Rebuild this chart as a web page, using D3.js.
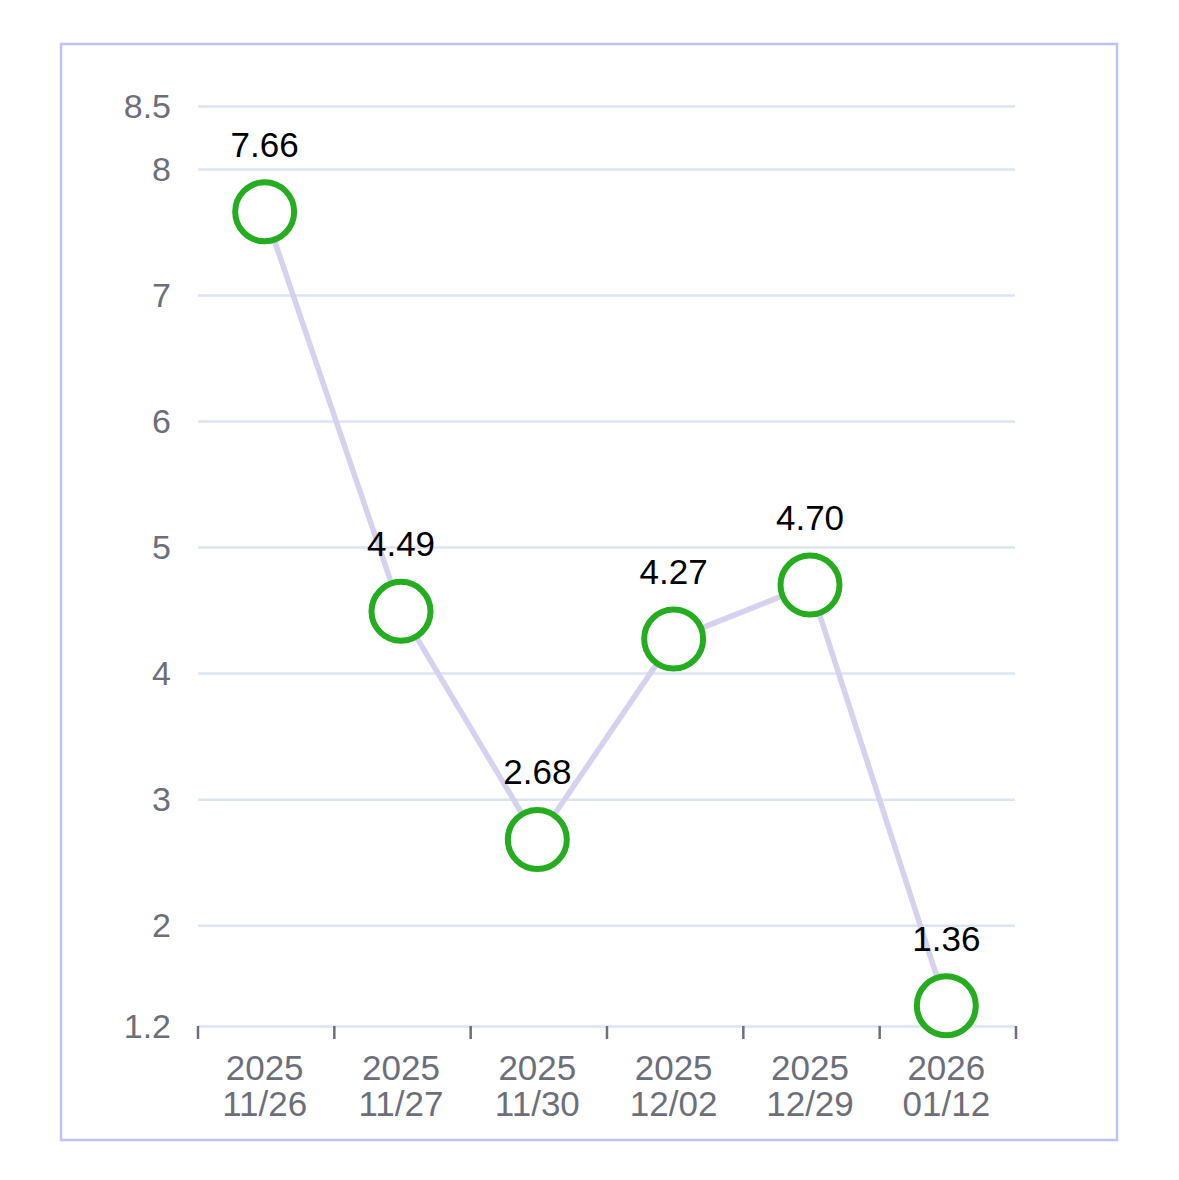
<!DOCTYPE html>
<html>
<head>
<meta charset="utf-8">
<script src="https://cdn.jsdelivr.net/npm/d3@7"></script>
<style>
  body { margin: 0; background: #fff; }
  text { font-family: "Liberation Sans", Arial, sans-serif; }
</style>
</head>
<body>
<svg width="1179" height="1180"></svg>
<script>
const years = ['2025', '2025', '2025', '2025', '2025', '2026'];
const dates = ['11/26', '11/27', '11/30', '12/02', '12/29', '01/12'];
const values = [7.66, 4.49, 2.68, 4.27, 4.70, 1.36];
const yTicks = [1.2, 2, 3, 4, 5, 6, 7, 8, 8.5];

const svg = d3.select('svg');

// outer frame
svg.append('rect')
    .attr('x', 61).attr('y', 44)
    .attr('width', 1056).attr('height', 1096)
    .attr('fill', 'none')
    .attr('stroke', '#bcc3f7')
    .attr('stroke-width', 2.5);

const plotLeft = 198, plotRight = 1016, plotTop = 106, plotBottom = 1026;

const keys = dates.map((d, i) => years[i] + ' ' + d);
const xScale = d3.scaleBand().domain(keys).range([plotLeft, plotRight]);
const yScale = d3.scaleLinear().domain([1.2, 8.5]).range([plotBottom, plotTop]);
const cx = (i) => xScale(keys[i]) + xScale.bandwidth() / 2 - 1.5;

// grid
svg.append('g')
    .attr('transform', `translate(${plotLeft},0)`)
    .call(d3.axisLeft(yScale).tickValues(yTicks).tickSize(-(plotRight - plotLeft - 1)).tickFormat(''))
    .call(g => g.select('.domain').remove())
    .call(g => g.selectAll('line').attr('stroke', '#dde5f2').attr('stroke-width', 2.5));

// y labels
svg.append('g')
    .selectAll('text')
    .data(yTicks)
    .enter()
    .append('text')
    .attr('x', 171)
    .attr('y', (d) => yScale(d))
    .attr('dy', '0.35em')
    .attr('text-anchor', 'end')
    .attr('font-size', 34)
    .attr('fill', '#6c6f7a')
    .text((d) => d);

// x axis ticks
const edges = keys.map((k) => xScale(k)).concat([plotRight]);
svg.append('g')
    .selectAll('line')
    .data(edges)
    .enter()
    .append('line')
    .attr('x1', (d) => d).attr('x2', (d) => d)
    .attr('y1', plotBottom).attr('y2', plotBottom + 13)
    .attr('stroke', '#6c6f7a')
    .attr('stroke-width', 2.5);

const xl = svg.append('g')
    .selectAll('text')
    .data(keys)
    .enter()
    .append('text')
    .attr('x', (d, i) => cx(i))
    .attr('text-anchor', 'middle')
    .attr('font-size', 35)
    .attr('fill', '#6c6f7a');
xl.append('tspan').attr('x', (d, i) => cx(i)).attr('y', 1080).text((d, i) => years[i]);
xl.append('tspan').attr('x', (d, i) => cx(i)).attr('y', 1116).text((d, i) => dates[i]);

// line
const line = d3.line().x((d, i) => cx(i)).y((d) => yScale(d));
svg.append('path')
    .datum(values)
    .attr('d', line)
    .attr('fill', 'none')
    .attr('stroke', '#d4d2ee')
    .attr('stroke-width', 5.5);

// points
svg.append('g')
    .selectAll('circle')
    .data(values)
    .enter()
    .append('circle')
    .attr('cx', (d, i) => cx(i))
    .attr('cy', (d) => yScale(d))
    .attr('r', 29.5)
    .attr('fill', '#fff')
    .attr('stroke', '#24ad1f')
    .attr('stroke-width', 6);

// value labels
svg.append('g')
    .selectAll('text')
    .data(values)
    .enter()
    .append('text')
    .attr('x', (d, i) => cx(i))
    .attr('y', (d) => yScale(d) - 55)
    .attr('text-anchor', 'middle')
    .attr('font-size', 35)
    .attr('fill', '#000')
    .text((d) => d.toFixed(2));
</script>
</body>
</html>
